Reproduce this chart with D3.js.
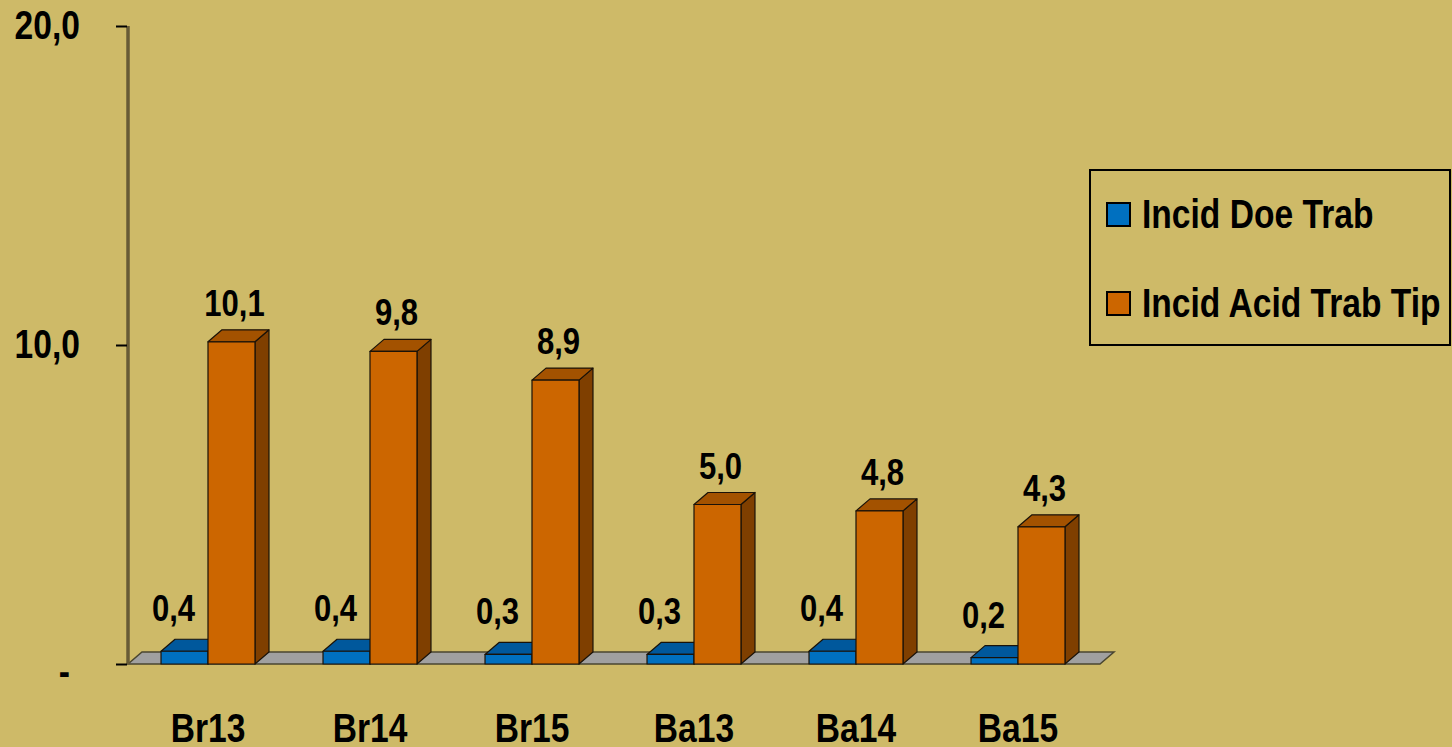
<!DOCTYPE html>
<html>
<head>
<meta charset="utf-8">
<script src="https://cdn.jsdelivr.net/npm/d3@7"></script>
<style>
  html, body { margin: 0; padding: 0; background: #CEBA68; }
  svg { display: block; }
  text { font-family: "Liberation Sans", Arial, sans-serif; font-weight: bold; fill: #000; }
</style>
</head>
<body>
<svg id="chart" width="1452" height="747"></svg>
<script>
// values
const categories = ["Br13", "Br14", "Br15", "Ba13", "Ba14", "Ba15"];
const seriesNames = ["Incid Doe Trab", "Incid Acid Trab Tip"];
const doeTrab = [0.4, 0.4, 0.3, 0.3, 0.4, 0.2];
const acidTrab = [10.1, 9.8, 8.9, 5.0, 4.8, 4.3];
const yTicks = [0, 10, 20];
const yTickLabels = ["-", "10,0", "20,0"];

const svg = d3.select("#chart");
const width = +svg.attr("width");
const height = +svg.attr("height");
const narrow = 0.84; // no narrow font installed, squeeze the bold sans instead

svg.append("rect")
  .attr("width", width)
  .attr("height", height)
  .attr("fill", "#CEBA68");

const x0 = 127, x1 = 1099, yBase = 664, yTop = 26;
const dx = 14, dy = 12; // 3d depth offset

const y = d3.scaleLinear().domain([0, 20]).range([yBase, yTop]);
const x = d3.scaleBand().domain(categories).range([x0, x1])
  .paddingInner(0.42).paddingOuter(0.21);
const xs = d3.scaleBand().domain(seriesNames).range([0, x.bandwidth()]);

const colors = {
  "Incid Doe Trab": { front: "#0070C0", top: "#00589C", side: "#004A80" },
  "Incid Acid Trab Tip": { front: "#CC6600", top: "#A35200", side: "#7F3F00" }
};

function label(parent, tx, ty, str, size, anchor) {
  return parent.append("text")
    .attr("transform", `translate(${tx},${ty}) scale(${narrow},1)`)
    .attr("text-anchor", anchor || "start")
    .attr("font-size", size + "px")
    .text(str);
}

// floor
svg.append("polygon")
  .attr("points", [[x0 + 1, yBase], [x1 + 1, yBase], [x1 + 1 + dx, yBase - dy], [x0 + 1 + dx, yBase - dy]].join(" "))
  .attr("fill", "#A0A0A0")
  .attr("stroke", "#4a4630")
  .attr("stroke-width", 1.5);

// y axis line
svg.append("line")
  .attr("x1", x0 + 1).attr("x2", x0 + 1)
  .attr("y1", yTop).attr("y2", yBase)
  .attr("stroke", "#675B36")
  .attr("stroke-width", 3.5);

const axis = svg.append("g")
  .attr("transform", `translate(${x0},0)`)
  .call(d3.axisLeft(y).tickValues(yTicks)
    .tickFormat((d, i) => yTickLabels[i])
    .tickSize(11).tickPadding(36));
axis.select(".domain").remove();
axis.selectAll(".tick line").attr("stroke", "#000").attr("stroke-width", 2);
axis.selectAll(".tick text")
  .attr("font-size", "40px")
  .attr("font-family", null)
  .attr("fill", "#000")
  .each(function () {
    const t = d3.select(this);
    const tx = +t.attr("x");
    t.attr("x", 0).attr("transform", `translate(${tx},0) scale(${narrow},1)`);
    if (t.text() === "-") {
      t.attr("transform", `translate(${tx - 10},0) scale(${narrow},1)`).attr("dy", "0.52em");
    }
  });

// bars
const bw = xs.bandwidth();
const rows = categories.map((c, i) => ({ cat: c, values: [doeTrab[i], acidTrab[i]] }));

rows.forEach(row => {
  row.values.forEach((v, j) => {
    const name = seriesNames[j];
    const col = colors[name];
    const bx = x(row.cat) + xs(name);
    const by = y(v);
    const g = svg.append("g").attr("class", "bar")
      .attr("stroke", "#1a1208").attr("stroke-width", 1.2).attr("stroke-linejoin", "round");
    // side
    g.append("polygon")
      .attr("points", [[bx + bw, by], [bx + bw + dx, by - dy], [bx + bw + dx, yBase - dy], [bx + bw, yBase]].join(" "))
      .attr("fill", col.side);
    // top
    g.append("polygon")
      .attr("points", [[bx, by], [bx + dx, by - dy], [bx + bw + dx, by - dy], [bx + bw, by]].join(" "))
      .attr("fill", col.top);
    // front
    g.append("rect")
      .attr("x", bx).attr("y", by)
      .attr("width", bw).attr("height", yBase - by)
      .attr("fill", col.front);
  });
});

// value labels
const fmt = v => d3.format(".1f")(v).replace(".", ",");
rows.forEach(row => {
  row.values.forEach((v, j) => {
    const name = seriesNames[j];
    const cx = x(row.cat) + xs(name) + bw / 2;
    label(svg,
      j === 0 ? cx - 11 : cx + 3,
      j === 0 ? y(v) - 30 : y(v) - dy - 14,
      fmt(v), 37, "middle");
  });
});

// category labels
categories.forEach(c => {
  label(svg, x(c) + x.bandwidth() / 2, 742, c, 40, "middle");
});

// legend
const legend = svg.append("g").attr("transform", "translate(1090,170)");
legend.append("rect")
  .attr("width", 360).attr("height", 175)
  .attr("fill", "none")
  .attr("stroke", "#000")
  .attr("stroke-width", 2);
seriesNames.forEach((d, i) => {
  const item = legend.append("g").attr("transform", `translate(0,${33 + i * 89})`);
  item.append("rect")
    .attr("x", 17).attr("y", 0)
    .attr("width", 23).attr("height", 23)
    .attr("fill", colors[d].front)
    .attr("stroke", "#000")
    .attr("stroke-width", 2);
  label(item, 52, 25, d, 40, "start");
});
</script>
</body>
</html>
